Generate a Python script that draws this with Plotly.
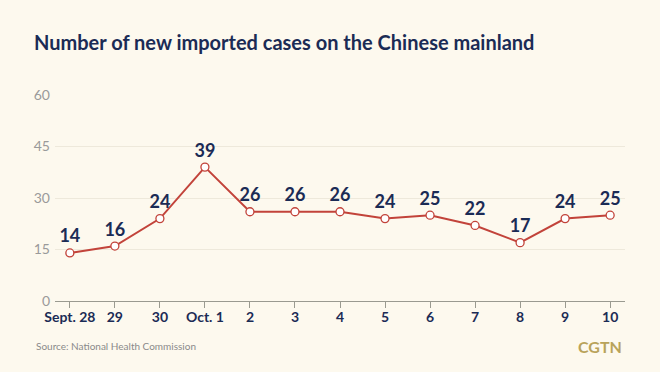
import plotly.graph_objects as go

categories = ["Sept. 28", "29", "30", "Oct. 1", "2", "3", "4", "5", "6", "7", "8", "9", "10"]
new_imported_cases = [14, 16, 24, 39, 26, 26, 26, 24, 25, 22, 17, 24, 25]
y_ticks = [0, 15, 30, 45, 60]

BG = "#FDF9EE"
NAVY = "#1B2B55"
RED = "#C2433A"
FONT = "Lato"

ML, MR, MT, MB = 55, 35, 95, 71
W, H = 660, 372

fig = go.Figure()
fig.add_trace(go.Scatter(
    x=list(range(len(categories))),
    y=new_imported_cases,
    mode="lines+markers+text",
    text=[str(v) for v in new_imported_cases],
    textposition="top center",
    textfont=dict(family=FONT, size=18, color=NAVY, weight="bold"),
    line=dict(color=RED, width=2),
    marker=dict(size=8, color="white", line=dict(color=RED, width=1.3)),
    cliponaxis=False,
    hoverinfo="skip",
))

pw = W - ML - MR
ph = H - MT - MB

def px_x(x):
    return (x - ML) / pw

def px_y(y):
    return (H - MB - y) / ph

fig.update_layout(
    width=W, height=H,
    paper_bgcolor=BG, plot_bgcolor=BG,
    margin=dict(l=ML, r=MR, t=MT, b=MB),
    showlegend=False,
    title=dict(
        text="Number of new imported cases on the Chinese mainland",
        x=34 / W, xref="container", xanchor="left",
        y=1 - 43 / H, yref="container", yanchor="middle",
        font=dict(family=FONT, size=20, color=NAVY, weight="bold"),
    ),
    xaxis=dict(
        range=[-0.33, 12.33],
        tickvals=list(range(len(categories))),
        ticktext=categories,
        showgrid=False, zeroline=False,
        showline=True, linecolor="#9A9A90", linewidth=1,
        ticks="outside", ticklen=6, tickcolor="#9A9A90", tickwidth=1,
        ticklabelstandoff=-3,
        tickfont=dict(family=FONT, size=14, color=NAVY, weight="bold"),
        fixedrange=True,
    ),
    yaxis=dict(
        range=[0, 60],
        tickvals=y_ticks,
        showgrid=True, gridcolor="#EEE9DB", gridwidth=1,
        zeroline=False, showline=False,
        ticks="", ticklabelstandoff=4,
        tickfont=dict(family=FONT, size=14, color="#9A9A9A"),
        fixedrange=True,
    ),
    annotations=[
        dict(text="Source: National Health Commission", x=px_x(34), y=px_y(346),
             xref="paper", yref="paper", showarrow=False, xanchor="left", yanchor="middle",
             font=dict(family=FONT, size=10, color="#8A8A8A")),
        dict(text="CGTN", x=px_x(624), y=px_y(346),
             xref="paper", yref="paper", showarrow=False, xanchor="right", yanchor="middle",
             font=dict(family=FONT, size=16, color="#B9A35A", weight="bold")),
    ],
)

fig.write_html("out.html", config={"displayModeBar": False},
               post_script="document.body.style.margin='0';")
